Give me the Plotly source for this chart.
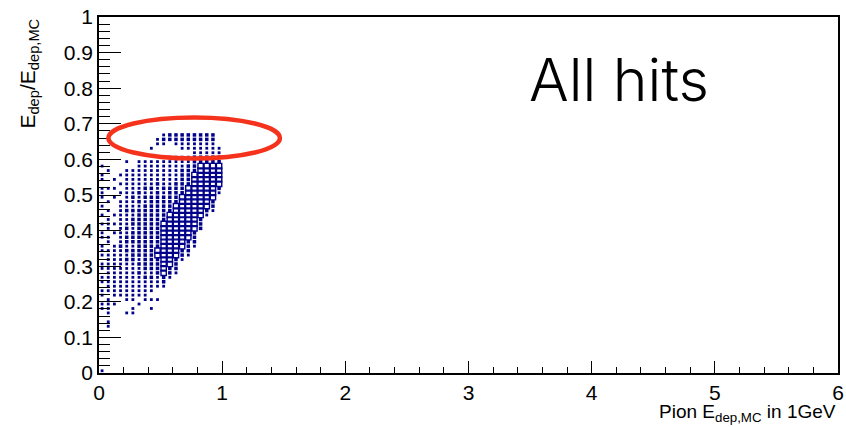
import plotly.graph_objects as go

# Pion energy bins (GeV), bin width 0.05
x_centers = [0.025, 0.075, 0.125, 0.175, 0.225, 0.275, 0.325, 0.375, 0.425, 0.475,
             0.525, 0.575, 0.625, 0.675, 0.725, 0.775, 0.825, 0.875, 0.925, 0.975]

# E_dep / E_dep,MC bins: width 0.0125, bins 53 (top) .. 0 (bottom)
y_bin_width = 0.0125
top_bin = 53

# Bin content per energy column, top bin first:
# '.' empty, '1' few entries, '2' several entries, '3' many entries
column_hits = [
    ".......1.1" "1.111.1.1." "1.11.111.1" "1.11.11.11" ".........." "...1",
    "........1." "..1..1.1.1" "11.11.1111" "111111.111" "1.11......" "....",
    ".........." "1.1.1...1." "1.1..11111" "1111111.1." ".........." "....",
    ".........1" ".1.1.11111" "1111121111" "1111111..." ".........." "....",
    "......1.11" "1111111211" "1212212121" "11111111.." "1........." "....",
    "........11" "1111211212" "2122212221" "11111111.1" "1........." "....",
    "......1111" "1112121222" "2222222212" "1211111.1." ".........." "....",
    "......1111" "1121212222" "2222222222" "21211111.." ".........." "....",
    "...1..1111" "1121222222" "2222222222" "212111.1.1" ".........." "....",
    ".11...1111" "1212222222" "2222223322" "22111..1.." ".........." "....",
    "121...1111" "1121222222" "3333333333" "33221....." ".........." "....",
    "22...11111" "1122222233" "3333333333" "221......." ".........." "....",
    "221..11111" "1222223333" "3333333322" "21........" ".........." "....",
    "2211.11122" "2222333333" "333333221." ".........." ".........." "....",
    "2211.11222" "2233333333" "33332221.." ".........." ".........." "....",
    "2211122223" "3333333333" "332221...." ".........." ".........." "....",
    "2211122333" "3333333332" "22........" ".........." ".........." "....",
    "2211122333" "333333321." ".........." ".........." ".........." "....",
    "2211122333" "33333221.." ".........." ".........." ".........." "....",
    "...1122333" "3321......" ".........." ".........." ".........." "....",
]

x_ticks = [0, 1, 2, 3, 4, 5, 6]
y_ticks = [0, 0.1, 0.2, 0.3, 0.4, 0.5, 0.6, 0.7, 0.8, 0.9, 1]

# box appearance per content level
level_style = {
    "1": dict(symbol="square", size=2.8, lw=0),
    "2": dict(symbol="square", size=3.5, lw=0),
    "3": dict(symbol="square-open", size=5.3, lw=1.4),
}

xs, ys, sizes, symbols, lws = [], [], [], [], []
for xc, hits in zip(x_centers, column_hits):
    for k, ch in enumerate(hits):
        if ch == ".":
            continue
        b = top_bin - k
        st = level_style[ch]
        xs.append(xc)
        ys.append((b + 0.5) * y_bin_width)
        sizes.append(st["size"])
        symbols.append(st["symbol"])
        lws.append(st["lw"])

blue = "#00008a"
font_family = "Liberation Sans, Arial, sans-serif"

fig = go.Figure()
fig.add_trace(go.Scatter(
    x=xs, y=ys, mode="markers",
    marker=dict(color=blue, size=sizes, symbol=symbols, opacity=1,
                line=dict(color=blue, width=lws)),
    hoverinfo="skip", showlegend=False,
))

axis_common = dict(
    showgrid=False, zeroline=False, showline=True, linecolor="black",
    linewidth=1.5, mirror=True, ticks="inside", tickcolor="black",
    tickwidth=1.2, ticklabeloverflow="allow",
    tickfont=dict(family=font_family, size=21, color="black"),
)

fig.update_xaxes(range=[0, 6], tickvals=x_ticks, ticklen=12,
                 minor=dict(dtick=0.2, ticklen=6, ticks="inside",
                            tickcolor="black", tickwidth=1.2),
                 **axis_common)
fig.update_yaxes(range=[0, 1], tickvals=y_ticks, ticklen=22,
                 minor=dict(dtick=0.02, ticklen=11, ticks="inside",
                            tickcolor="black", tickwidth=1.2),
                 **axis_common)

# highlight of the saturated band near 2/3
fig.add_shape(type="circle", xref="x", yref="y",
              x0=0.0765, x1=1.469, y0=0.6025, y1=0.7177,
              line=dict(color="#f5331d", width=4.5))

fig.add_annotation(text="All hits", xref="paper", yref="paper",
                   x=(530 - 99) / 745, y=1 - (117 - 17) / 356,
                   xanchor="left", yanchor="bottom", showarrow=False,
                   font=dict(family="Inter, Liberation Sans, sans-serif",
                             size=59, color="black", weight=300))

fig.add_annotation(text="E<sub>dep</sub>/E<sub>dep,MC</sub>",
                   xref="paper", yref="paper", x=-71 / 745, y=1,
                   xanchor="center", yanchor="top", textangle=-90,
                   showarrow=False,
                   font=dict(family=font_family, size=21, color="black"))

fig.add_annotation(text="Pion E<sub>dep,MC</sub> in 1GeV",
                   xref="paper", yref="paper", x=1, y=-(399 - 373) / 356,
                   xanchor="right", yanchor="top", showarrow=False,
                   font=dict(family=font_family, size=19, color="black"))

fig.update_layout(
    width=846, height=427,
    margin=dict(l=99, r=2, t=17, b=54),
    paper_bgcolor="white", plot_bgcolor="white",
)

fig.write_html("out.html")
